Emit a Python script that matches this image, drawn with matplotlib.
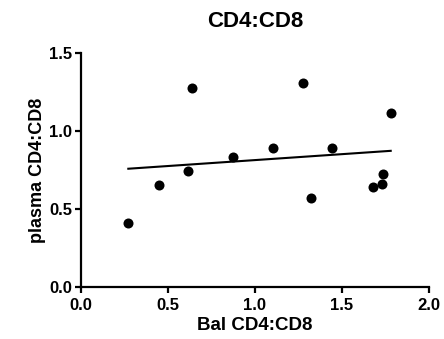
import numpy as np
import matplotlib
matplotlib.use("Agg")
import matplotlib.pyplot as plt

plt.rcParams['font.family'] = ['Liberation Sans', 'DejaVu Sans']
plt.rcParams['font.weight'] = 'bold'

bal = [0.272, 0.446, 0.615, 0.636, 0.872, 1.102, 1.276, 1.322, 1.443, 1.676, 1.730, 1.734, 1.780]
plasma = [0.412, 0.654, 0.744, 1.276, 0.831, 0.891, 1.310, 0.573, 0.891, 0.639, 0.660, 0.722, 1.117]
xticks = [0.0, 0.5, 1.0, 1.5, 2.0]
yticks = [0.0, 0.5, 1.0, 1.5]

fig = plt.figure(figsize=(4.44, 3.39), dpi=100)
ax = fig.add_axes([0.1824, 0.1534, 0.7838, 0.6903])

ax.scatter(bal, plasma, s=52, color='black', zorder=3, linewidths=0)
slope, intercept = np.polyfit(bal, plasma, 1)
xs = np.array([min(bal), max(bal)])
ax.plot(xs, slope * xs + intercept, color='black', lw=1.5)

ax.set_xlim(0, 2.0)
ax.set_ylim(0, 1.5)
ax.set_xticks(xticks)
ax.set_yticks(yticks)
ax.set_xticklabels([f"{t:.1f}" for t in xticks], fontsize=12, fontweight='bold')
ax.set_yticklabels([f"{t:.1f}" for t in yticks], fontsize=12, fontweight='bold')
for s in ['top', 'right']:
    ax.spines[s].set_visible(False)
for s in ['left', 'bottom']:
    ax.spines[s].set_linewidth(1.6)
ax.tick_params(width=1.6, length=4.5, direction='out')
ax.tick_params(axis='x', pad=3.5)
ax.tick_params(axis='y', pad=2)
ax.set_xlabel("Bal CD4:CD8", fontsize=13.5, fontweight='bold', labelpad=3)
ax.set_ylabel("plasma CD4:CD8", fontsize=13, fontweight='bold', labelpad=2)
ax.set_title("CD4:CD8", fontsize=16, fontweight='bold', pad=19)

fig.savefig("out.png", dpi=100)
